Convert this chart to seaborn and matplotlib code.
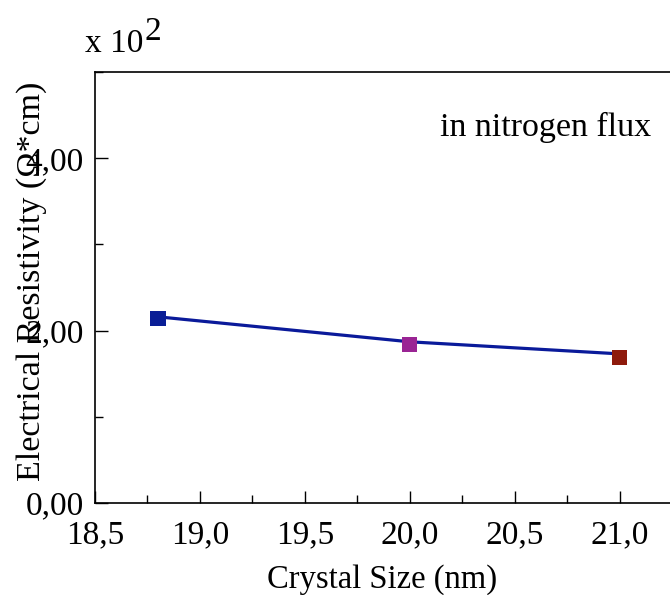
import pandas as pd
import matplotlib.pyplot as plt
import seaborn as sns
from matplotlib.ticker import MultipleLocator

# data (resistivity in units of 10^2 Ohm*cm)
crystal_size = [18.8, 20.0, 21.0]
resistivity = [2.14, 1.84, 1.69]
# fitted line drawn through the points
line_size = [18.8, 20.0, 21.0]
line_resistivity = [2.16, 1.87, 1.73]
point_colors = ['#0A1E96', '#9A2494', '#8E1A0C']

df = pd.DataFrame({'size': crystal_size, 'rho': resistivity,
                   'sample': ['a', 'b', 'c']})
line_df = pd.DataFrame({'size': line_size, 'rho': line_resistivity})

sns.set_theme(style="ticks")
plt.rcParams['font.family'] = ['Liberation Serif', 'DejaVu Serif']
plt.rcParams['text.color'] = 'black'
plt.rcParams['axes.labelcolor'] = 'black'
plt.rcParams['xtick.color'] = 'black'
plt.rcParams['ytick.color'] = 'black'

fig = plt.figure(figsize=(6.7, 5.95), dpi=100)
ax = fig.add_axes([95 / 670, 92 / 595, 575 / 670, 431 / 595])

sns.lineplot(data=line_df, x='size', y='rho', color='#0A1A9A', linewidth=2.3, ax=ax)
sns.scatterplot(data=df, x='size', y='rho', hue='sample', palette=point_colors,
                marker='s', s=120, edgecolor='none', legend=False, ax=ax, zorder=3)

ax.set_xlim(18.5, 21.24)
ax.set_ylim(0, 5.0)
ax.xaxis.set_major_locator(MultipleLocator(0.5))
ax.xaxis.set_minor_locator(MultipleLocator(0.25))
ax.yaxis.set_major_locator(MultipleLocator(2))
ax.yaxis.set_minor_locator(MultipleLocator(1))
ax.set_xticks([18.5, 19.0, 19.5, 20.0, 20.5, 21.0])
ax.set_xticklabels(['18,5', '19,0', '19,5', '20,0', '20,5', '21,0'])
ax.set_yticks([0, 2, 4])
ax.set_yticklabels(['0,00', '2,00', '4,00'])
ax.tick_params(which='major', direction='in', length=9, width=1, labelsize=24)
ax.tick_params(axis='x', which='major', pad=12)
ax.tick_params(axis='y', which='major', pad=8)
ax.tick_params(which='minor', direction='in', length=6, width=1)
ax.spines['right'].set_visible(False)
for sp in ['left', 'bottom', 'top']:
    ax.spines[sp].set_linewidth(1.2)
    ax.spines[sp].set_color('black')

ax.set_xlabel('Crystal Size (nm)', fontsize=23.5, labelpad=10)
ax.set_ylabel('Electrical Resistivity (Ω*cm)', fontsize=24.5)
ax.yaxis.set_label_coords(-0.083, 0.515)

ax.text(0.6, 0.852, 'in nitrogen flux', transform=ax.transAxes, fontsize=24.5)
fig.text(85 / 670, 1 - 52 / 595, 'x 10', fontsize=24, va='baseline')
fig.text(144 / 670, 1 - 40 / 595, '2', fontsize=24, va='baseline')

plt.savefig('out.png', dpi=100)
